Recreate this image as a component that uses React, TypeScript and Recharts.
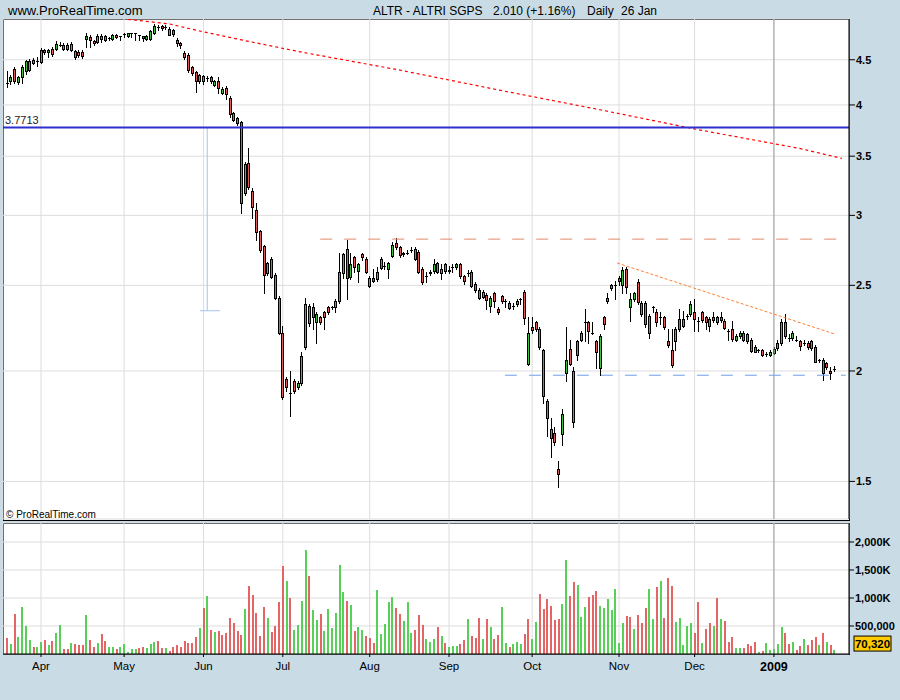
import React from 'react';
import { ComposedChart, Bar, Line, XAxis, YAxis, CartesianGrid, ReferenceLine } from 'recharts';

// ALTR - ALTRI SGPS, daily, 17 Mar 2008 .. 26 Jan 2009 (one row per trading day)
const opens = [
  4.24, 4.25, 4.39, 4.24, 4.31, 4.36, 4.39, 4.50, 4.48, 4.48,
  4.61, 4.59, 4.63, 4.63, 4.68, 4.63, 4.68, 4.62, 4.53, 4.59,
  4.59, 4.75, 4.77, 4.72, 4.71, 4.79, 4.79, 4.76, 4.75, 4.80,
  4.79, 4.81, 4.78, 4.82, 4.82, 4.80, 4.79, 4.75, 4.75, 4.82,
  4.90, 4.91, 4.90, 4.81, 4.86, 4.74, 4.70, 4.58, 4.56, 4.42,
  4.36, 4.26, 4.31, 4.29, 4.30, 4.22, 4.26, 4.13, 4.18, 4.07,
  3.92, 3.87, 3.83, 3.18, 3.44, 3.20, 3.04, 2.88, 2.77, 2.58,
  2.68, 2.57, 2.42, 2.21, 1.96, 1.89, 1.95, 1.92, 1.94, 2.13,
  2.37, 2.36, 2.27, 2.30, 2.33, 2.36, 2.36, 2.36, 2.40, 2.58,
  2.75, 2.55, 2.69, 2.59, 2.71, 2.68, 2.50, 2.55, 2.54, 2.68,
  2.63, 2.61, 2.70, 2.79, 2.76, 2.71, 2.72, 2.74, 2.75, 2.73,
  2.61, 2.56, 2.58, 2.59, 2.65, 2.58, 2.64, 2.60, 2.62, 2.62,
  2.64, 2.56, 2.58, 2.59, 2.51, 2.47, 2.43, 2.44, 2.37, 2.45,
  2.35, 2.43, 2.40, 2.39, 2.37, 2.38, 2.41, 2.46, 2.04, 2.24,
  2.27, 2.23, 2.11, 1.85, 1.72, 1.70, 1.55, 1.70, 1.99, 2.12,
  1.75, 2.16, 2.17, 2.27, 2.27, 2.21, 2.16, 2.015, 2.30, 2.40,
  2.48, 2.50, 2.55, 2.50, 2.61, 2.36, 2.41, 2.52, 2.39, 2.39,
  2.21, 2.36, 2.33, 2.30, 2.30, 2.16, 2.11, 2.16, 2.29, 2.25,
  2.31, 2.32, 2.33, 2.28, 2.33, 2.30, 2.29, 2.30, 2.30, 2.30,
  2.28, 2.22, 2.23, 2.17, 2.19, 2.21, 2.20, 2.17, 2.13, 2.11,
  2.11, 2.09, 2.085, 2.10, 2.12, 2.15, 2.27, 2.18, 2.18, 2.17,
  2.16, 2.15, 2.15, 2.16, 2.13, 2.06, 2.06, 2.04, 2.00, 2.01,
];

const highs = [
  4.37, 4.32, 4.41, 4.31, 4.44, 4.50, 4.51, 4.52, 4.53, 4.64,
  4.63, 4.63, 4.65, 4.72, 4.71, 4.70, 4.70, 4.71, 4.62, 4.61,
  4.61, 4.82, 4.80, 4.74, 4.81, 4.81, 4.80, 4.78, 4.81, 4.81,
  4.79, 4.82, 4.82, 4.82, 4.82, 4.80, 4.79, 4.80, 4.86, 4.94,
  4.92, 4.93, 4.93, 4.90, 4.87, 4.76, 4.71, 4.60, 4.58, 4.43,
  4.37, 4.34, 4.33, 4.31, 4.31, 4.27, 4.30, 4.19, 4.20, 4.09,
  3.93, 3.88, 3.84, 3.45, 3.58, 3.22, 3.10, 2.89, 2.78, 2.66,
  2.69, 2.58, 2.43, 2.25, 1.97, 2.00, 1.96, 1.95, 2.10, 2.42,
  2.38, 2.39, 2.33, 2.31, 2.34, 2.37, 2.37, 2.41, 2.72, 2.72,
  2.81, 2.72, 2.70, 2.65, 2.72, 2.69, 2.56, 2.61, 2.62, 2.69,
  2.66, 2.66, 2.80, 2.83, 2.77, 2.73, 2.74, 2.76, 2.76, 2.74,
  2.62, 2.59, 2.60, 2.68, 2.66, 2.64, 2.65, 2.63, 2.64, 2.65,
  2.65, 2.57, 2.60, 2.60, 2.52, 2.48, 2.47, 2.45, 2.43, 2.46,
  2.36, 2.44, 2.41, 2.40, 2.39, 2.41, 2.42, 2.47, 2.30, 2.30,
  2.28, 2.24, 2.12, 1.86, 1.77, 1.73, 1.58, 1.81, 2.24, 2.17,
  2.02, 2.17, 2.22, 2.35, 2.28, 2.27, 2.17, 2.20, 2.31, 2.45,
  2.51, 2.53, 2.56, 2.62, 2.62, 2.45, 2.46, 2.54, 2.40, 2.40,
  2.32, 2.37, 2.35, 2.33, 2.31, 2.23, 2.23, 2.24, 2.35, 2.34,
  2.32, 2.40, 2.41, 2.30, 2.34, 2.31, 2.30, 2.33, 2.31, 2.33,
  2.29, 2.23, 2.28, 2.20, 2.22, 2.22, 2.21, 2.18, 2.14, 2.12,
  2.12, 2.10, 2.11, 2.13, 2.17, 2.29, 2.32, 2.20, 2.22, 2.19,
  2.17, 2.17, 2.16, 2.17, 2.14, 2.065, 2.07, 2.05, 2.02, 2.025,
];

const lows = [
  4.19, 4.22, 4.23, 4.22, 4.24, 4.34, 4.37, 4.45, 4.43, 4.46,
  4.57, 4.53, 4.55, 4.62, 4.66, 4.62, 4.61, 4.60, 4.51, 4.53,
  4.52, 4.65, 4.65, 4.68, 4.70, 4.71, 4.72, 4.74, 4.74, 4.76,
  4.74, 4.77, 4.77, 4.78, 4.74, 4.74, 4.73, 4.74, 4.74, 4.81,
  4.86, 4.86, 4.88, 4.80, 4.79, 4.66, 4.64, 4.51, 4.36, 4.33,
  4.14, 4.24, 4.22, 4.26, 4.23, 4.20, 4.13, 4.12, 4.06, 3.88,
  3.84, 3.80, 3.02, 3.16, 3.21, 2.98, 2.81, 2.73, 2.45, 2.57,
  2.55, 2.41, 2.20, 1.86, 1.90, 1.78, 1.89, 1.91, 1.93, 2.12,
  2.25, 2.23, 2.15, 2.26, 2.23, 2.32, 2.35, 2.33, 2.39, 2.55,
  2.41, 2.54, 2.59, 2.52, 2.67, 2.58, 2.49, 2.52, 2.53, 2.61,
  2.61, 2.55, 2.69, 2.75, 2.69, 2.70, 2.71, 2.73, 2.67, 2.58,
  2.51, 2.52, 2.57, 2.58, 2.58, 2.54, 2.58, 2.58, 2.59, 2.61,
  2.55, 2.51, 2.56, 2.49, 2.46, 2.41, 2.42, 2.35, 2.33, 2.36,
  2.32, 2.39, 2.36, 2.35, 2.35, 2.37, 2.38, 2.26, 2.03, 2.21,
  2.22, 2.12, 1.84, 1.69, 1.60, 1.65, 1.48, 1.65, 1.95, 2.03,
  1.73, 2.06, 2.16, 2.16, 2.15, 2.20, 2.015, 1.98, 2.23, 2.39,
  2.47, 2.41, 2.50, 2.45, 2.45, 2.28, 2.40, 2.38, 2.31, 2.24,
  2.18, 2.33, 2.25, 2.26, 2.23, 2.13, 2.02, 2.11, 2.22, 2.24,
  2.29, 2.31, 2.22, 2.22, 2.27, 2.23, 2.22, 2.27, 2.26, 2.27,
  2.23, 2.17, 2.16, 2.16, 2.18, 2.16, 2.15, 2.10, 2.10, 2.10,
  2.08, 2.08, 2.08, 2.09, 2.11, 2.14, 2.18, 2.16, 2.17, 2.16,
  2.11, 2.14, 2.12, 2.11, 2.05, 2.05, 1.955, 2.01, 1.96, 2.00,
];

const closes = [
  4.23, 4.30, 4.25, 4.30, 4.42, 4.48, 4.49, 4.47, 4.49, 4.62,
  4.59, 4.61, 4.57, 4.69, 4.69, 4.68, 4.63, 4.69, 4.60, 4.55,
  4.54, 4.79, 4.73, 4.70, 4.79, 4.75, 4.74, 4.76, 4.80, 4.77,
  4.79, 4.81, 4.82, 4.82, 4.82, 4.80, 4.76, 4.79, 4.85, 4.91,
  4.90, 4.89, 4.91, 4.88, 4.81, 4.70, 4.67, 4.53, 4.38, 4.35,
  4.26, 4.33, 4.25, 4.28, 4.25, 4.26, 4.18, 4.17, 4.12, 3.90,
  3.85, 3.82, 3.10, 3.43, 3.23, 3.07, 2.87, 2.74, 2.57, 2.65,
  2.56, 2.42, 2.21, 1.87, 1.92, 1.89, 1.90, 1.94, 2.08, 2.38,
  2.27, 2.30, 2.32, 2.27, 2.30, 2.33, 2.36, 2.40, 2.59, 2.71,
  2.55, 2.64, 2.62, 2.64, 2.69, 2.59, 2.55, 2.53, 2.59, 2.62,
  2.63, 2.65, 2.78, 2.76, 2.70, 2.72, 2.72, 2.74, 2.68, 2.59,
  2.52, 2.56, 2.59, 2.64, 2.59, 2.61, 2.59, 2.59, 2.62, 2.64,
  2.56, 2.53, 2.58, 2.50, 2.47, 2.42, 2.46, 2.41, 2.42, 2.40,
  2.33, 2.40, 2.40, 2.36, 2.37, 2.40, 2.41, 2.30, 2.21, 2.22,
  2.23, 2.13, 1.87, 1.77, 1.68, 1.66, 1.53, 1.79, 2.06, 2.04,
  2.00, 2.08, 2.21, 2.27, 2.22, 2.21, 2.10, 2.19, 2.26, 2.42,
  2.50, 2.50, 2.53, 2.60, 2.49, 2.41, 2.45, 2.39, 2.32, 2.26,
  2.31, 2.36, 2.27, 2.30, 2.24, 2.14, 2.03, 2.23, 2.23, 2.29,
  2.31, 2.38, 2.29, 2.28, 2.28, 2.27, 2.25, 2.28, 2.27, 2.28,
  2.24, 2.22, 2.17, 2.19, 2.21, 2.17, 2.16, 2.11, 2.105, 2.11,
  2.085, 2.09, 2.10, 2.12, 2.15, 2.27, 2.19, 2.18, 2.21, 2.17,
  2.13, 2.15, 2.13, 2.12, 2.05, 2.055, 1.99, 2.02, 1.99, 2.01,
];

const volumes = [
  292000, 179000, 714000, 304000, 839000, 500000, 250000, 125000, 125000, 214000,
  250000, 161000, 232000, 375000, 518000, 89000, 89000, 196000, 179000, 161000,
  161000, 696000, 250000, 125000, 196000, 357000, 232000, 125000, 125000, 89000,
  125000, 179000, 36000, 89000, 89000, 107000, 125000, 107000, 179000, 214000,
  232000, 107000, 107000, 54000, 125000, 161000, 125000, 232000, 196000, 196000,
  304000, 464000, 821000, 1036000, 429000, 393000, 411000, 339000, 375000, 643000,
  554000, 411000, 339000, 804000, 1214000, 1054000, 732000, 321000, 839000, 643000,
  393000, 500000, 929000, 1571000, 1304000, 1000000, 429000, 518000, 946000, 1857000,
  1393000, 786000, 607000, 714000, 411000, 804000, 464000, 732000, 1589000, 1107000,
  946000, 875000, 411000, 482000, 429000, 321000, 286000, 196000, 1143000, 357000,
  536000, 929000, 1018000, 821000, 714000, 589000, 929000, 375000, 429000, 696000,
  518000, 268000, 214000, 268000, 482000, 321000, 196000, 125000, 143000, 143000,
  179000, 250000, 625000, 321000, 286000, 643000, 268000, 625000, 482000, 268000,
  339000, 839000, 196000, 125000, 179000, 214000, 179000, 357000, 625000, 268000,
  571000, 1071000, 804000, 982000, 857000, 607000, 625000, 893000, 1679000, 1036000,
  1286000, 1232000, 661000, 839000, 1018000, 1054000, 1125000, 857000, 821000, 982000,
  786000, 1161000, 196000, 554000, 679000, 661000, 446000, 696000, 554000, 821000,
  1161000, 625000, 1196000, 1304000, 643000, 1357000, 1214000, 571000, 643000, 161000,
  500000, 554000, 375000, 929000, 196000, 446000, 554000, 500000, 1000000, 625000,
  589000, 214000, 304000, 107000, 107000, 107000, 179000, 143000, 214000, 36000,
  54000, 196000, 71000, 89000, 179000, 482000, 375000, 179000, 214000, 71000,
  143000, 268000, 161000, 250000, 304000, 161000, 375000, 214000, 161000, 70320,
];

// first trading day of each month (row index) and its label
const monthTicks = [9, 31, 52, 73, 96, 117, 139, 162, 182, 203];
const monthLabels = ['Apr', 'May', 'Jun', 'Jul', 'Aug', 'Sep', 'Oct', 'Nov', 'Dec', '2009'];
const yearTick = 203;

const priceTicks = [1.5, 2, 2.5, 3, 3.5, 4, 4.5];
const volumeTicks = [500000, 1000000, 1500000, 2000000];

// long moving average, read at a few points
const maIndex = [32, 43, 51, 64, 78, 104, 130, 157, 183, 210, 221];
const maValues = [5.0, 4.94, 4.85, 4.72, 4.59, 4.38, 4.16, 3.95, 3.75, 3.57, 3.48];

// drawn objects
const supportLevel = 3.7713;
const topLevel = { from: 82.9, to: 220, value: 2.82 };
const bottomLevel = { from: 131.8, to: 222, value: 1.978 };
const trendLine = { x1: 161.5, y1: 2.65, x2: 219.4, y2: 2.2 };
const measure = { x: 53, top: 3.7713, bottom: 2.34, left: 51.1, right: 56.4 };

const X_DOMAIN: [number, number] = [-1.06, 222.87];
const PRICE_DOMAIN: [number, number] = [1.36, 5.004];
const VOLUME_DOMAIN: [number, number] = [0, 2339000];

const FONT = '"Liberation Sans", Arial, sans-serif';
const BG = '#c9dce6';
const GRID = '#dddddd';
const GREEN = '#3ec23e';
const RED = '#e05a5a';
const VOL_GREEN = '#57d057';
const VOL_RED = '#e36565';

const priceData = Array.from({ length: 222 }, (_, i) => {
  const row: any = { i };
  if (i < closes.length) {
    row.open = opens[i];
    row.high = highs[i];
    row.low = lows[i];
    row.close = closes[i];
    row.range = [lows[i], highs[i]];
  }
  const m = maIndex.indexOf(i);
  if (m >= 0) row.ma = maValues[m];
  return row;
});

const volumeData = volumes.map((v, i) => ({
  i,
  vol: v,
  up: i === 0 ? closes[0] >= opens[0] : closes[i] >= closes[i - 1],
}));

const Candle = (p: any) => {
  const { x, y, width, height, payload } = p;
  if (!payload || payload.high == null) return <g />;
  const top = Math.min(y, y + height);
  const span = Math.abs(height);
  const lh = Math.log(payload.high);
  const ll = Math.log(payload.low);
  const toPx = (v: number) => (lh === ll ? top : top + (span * (lh - Math.log(v))) / (lh - ll));
  const cx = Math.round(x + width / 2);
  const yo = toPx(payload.open);
  const yc = toPx(payload.close);
  const bTop = Math.min(yo, yc);
  const bBot = Math.max(yo, yc);
  const up = payload.close >= payload.open;
  return (
    <g shapeRendering="crispEdges">
      <line x1={cx + 0.5} x2={cx + 0.5} y1={top} y2={top + span + 1} stroke="#000" />
      {bBot - bTop < 1.2 ? (
        <line x1={cx - 1} x2={cx + 2} y1={Math.round(yo) + 0.5} y2={Math.round(yo) + 0.5} stroke="#000" />
      ) : (
        <rect
          x={cx - 0.5}
          y={Math.round(bTop) + 0.5}
          width={2}
          height={Math.max(1, Math.round(bBot - bTop))}
          fill={up ? GREEN : RED}
          stroke="#000"
        />
      )}
    </g>
  );
};

const VolumeBar = (p: any) => {
  const { x, y, width, height, payload } = p;
  if (!height) return <g />;
  return (
    <rect
      x={Math.round(x + width / 2) - 1}
      y={y}
      width={2}
      height={height}
      fill={payload.up ? VOL_GREEN : VOL_RED}
      shapeRendering="crispEdges"
    />
  );
};

const MonthTick = (p: any) => {
  const { x, y, payload } = p;
  const label = monthLabels[monthTicks.indexOf(payload.value)];
  const isYear = label === '2009';
  return (
    <text
      x={x}
      y={y}
      dy={isYear ? 12 : 11}
      textAnchor="middle"
      fontFamily={FONT}
      fontSize={isYear ? 12.5 : 11.5}
      fontWeight={isYear ? 'bold' : 'normal'}
      fill="#000"
    >
      {label}
    </text>
  );
};

const fmtVolume = (v: number) =>
  v >= 1000000 ? `${(v / 1000).toLocaleString('en-US')}K` : v.toLocaleString('en-US');

const axisTick = { fill: '#000', fontSize: 11, fontWeight: 'bold', fontFamily: FONT };

export default function App() {
  const lastVolume = volumes[volumes.length - 1];
  return (
    <div style={{ position: 'absolute', left: 0, top: 0, width: 900, height: 700, background: BG, overflow: 'hidden' }}>
      <div style={{ position: 'absolute', left: 3, top: 19, width: 847, height: 502, background: '#fff', border: '1px solid #000', boxSizing: 'border-box' }} />
      <div style={{ position: 'absolute', left: 3, top: 523, width: 847, height: 132, background: '#fff', border: '1px solid #000', boxSizing: 'border-box' }} />

      <div style={{ position: 'absolute', left: 0, top: 0 }}>
        <ComposedChart width={900} height={521} data={priceData} margin={{ top: 19, right: 0, bottom: 2, left: 3 }}>
          <CartesianGrid stroke={GRID} />
          <XAxis dataKey="i" type="number" domain={X_DOMAIN} allowDataOverflow ticks={monthTicks} hide />
          <YAxis
            orientation="right"
            scale="log"
            domain={PRICE_DOMAIN}
            allowDataOverflow
            ticks={priceTicks}
            interval={0}
            width={51}
            tickSize={6}
            tickMargin={1}
            axisLine={{ stroke: '#000' }}
            tickLine={{ stroke: '#000' }}
            tick={axisTick}
          />
          <ReferenceLine x={yearTick} stroke="#9c9c9c" />
          <ReferenceLine
            segment={[{ x: measure.x, y: measure.top }, { x: measure.x, y: measure.bottom }]}
            stroke="#a9c2f2"
          />
          <ReferenceLine
            segment={[{ x: measure.left, y: measure.bottom }, { x: measure.right, y: measure.bottom }]}
            stroke="#a9c2f2"
          />
          <ReferenceLine
            segment={[{ x: topLevel.from, y: topLevel.value }, { x: topLevel.to, y: topLevel.value }]}
            stroke="#e08a68"
            strokeDasharray="12 12"
          />
          <ReferenceLine
            segment={[{ x: bottomLevel.from, y: bottomLevel.value }, { x: bottomLevel.to, y: bottomLevel.value }]}
            stroke="#6f9ee8"
            strokeDasharray="12 12"
          />
          <ReferenceLine
            segment={[{ x: trendLine.x1, y: trendLine.y1 }, { x: trendLine.x2, y: trendLine.y2 }]}
            stroke="#ff8030"
            strokeDasharray="3 2"
          />
          <Line
            dataKey="ma"
            type="linear"
            stroke="#ff0000"
            strokeWidth={1.2}
            strokeDasharray="3 3"
            dot={false}
            activeDot={false}
            connectNulls
            isAnimationActive={false}
          />
          <Bar dataKey="range" barSize={3} shape={(p: any) => <Candle {...p} />} isAnimationActive={false} />
          <ReferenceLine
            y={supportLevel}
            stroke="#2f2fcf"
            strokeWidth={2}
            label={(p: any) => (
              <text x={p.viewBox.x + 2} y={p.viewBox.y - 4} fontFamily={FONT} fontSize={11} fill="#222">
                {supportLevel.toFixed(4)}
              </text>
            )}
          />
        </ComposedChart>
      </div>

      <div style={{ position: 'absolute', left: 0, top: 500 }}>
        <ComposedChart width={900} height={200} data={volumeData} margin={{ top: 23, right: 0, bottom: 0, left: 3 }}>
          <CartesianGrid stroke={GRID} />
          <XAxis
            dataKey="i"
            type="number"
            domain={X_DOMAIN}
            allowDataOverflow
            ticks={monthTicks}
            interval={0}
            height={46}
            tickSize={3}
            axisLine={{ stroke: '#000' }}
            tickLine={{ stroke: '#000' }}
            tick={(p: any) => <MonthTick {...p} />}
          />
          <YAxis
            orientation="right"
            domain={VOLUME_DOMAIN}
            allowDataOverflow
            ticks={volumeTicks}
            interval={0}
            width={51}
            tickSize={5}
            tickMargin={1}
            axisLine={{ stroke: '#000' }}
            tickLine={{ stroke: '#000' }}
            tick={axisTick}
            tickFormatter={fmtVolume}
          />
          <ReferenceLine x={yearTick} stroke="#9c9c9c" />
          <Bar dataKey="vol" barSize={2} shape={(p: any) => <VolumeBar {...p} />} isAnimationActive={false} />
          <ReferenceLine
            y={lastVolume}
            stroke="none"
            label={(p: any) => (
              <g>
                <rect x={p.viewBox.x + p.viewBox.width + 5} y={p.viewBox.y - 14} width={37} height={15} fill="#ffcc00" stroke="#000" />
                <text x={p.viewBox.x + p.viewBox.width + 23.5} y={p.viewBox.y - 2} textAnchor="middle" fontFamily={FONT} fontSize={11.5} fontWeight="bold" fill="#000">
                  {lastVolume.toLocaleString('en-US')}
                </text>
              </g>
            )}
          />
        </ComposedChart>
      </div>

      <svg width={900} height={700} style={{ position: 'absolute', left: 0, top: 0, pointerEvents: 'none' }}>
        <g fontFamily={FONT} fill="#000">
          <text x={8} y={15} fontSize={13}>www.ProRealTime.com</text>
          <text x={373} y={15} fontSize={12}>ALTR - ALTRI SGPS</text>
          <text x={493} y={15} fontSize={12}>2.010 (+1.16%)</text>
          <text x={587} y={15} fontSize={12}>Daily</text>
          <text x={621} y={15} fontSize={12}>26 Jan</text>
          <text x={6} y={518} fontSize={10}>© ProRealTime.com</text>
        </g>
      </svg>
    </div>
  );
}
